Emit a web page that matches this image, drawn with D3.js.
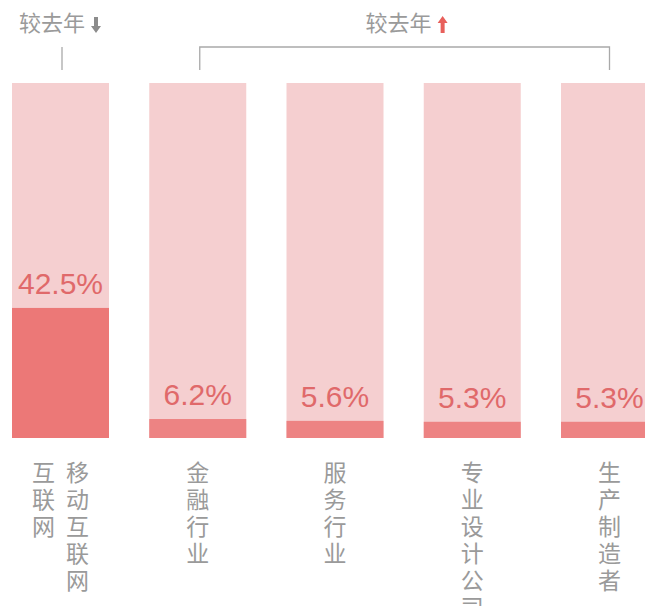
<!DOCTYPE html>
<html lang="zh">
<head>
    <meta charset="UTF-8">
    <title>较去年</title>
    <script src="https://d3js.org/d3.v7.min.js"></script>
    <style>
        body {
            margin: 0;
            padding: 0;
            background: #fff;
        }
        svg {
            display: block;
        }
        .cat {
            font-family: "Noto Sans CJK SC", sans-serif;
            font-size: 23px;
            fill: #9a9a9a;
        }
        .head {
            font-family: "Noto Sans CJK SC", sans-serif;
            font-size: 22px;
            fill: #9a9a9a;
        }
        .pct {
            font-family: "Liberation Sans", Arial, sans-serif;
            font-size: 30px;
            fill: #e0696a;
        }
    </style>
</head>
<body>
    <script>
        // donnees
        var categories = ['互联网/移动互联网', '金融行业', '服务行业', '专业设计公司', '生产制造者'];
        var values = [42.5, 6.2, 5.6, 5.3, 5.3];
        var yMax = 116;

        // groupes en tete : baisse pour le premier, hausse pour les autres
        var trendDown = ['互联网/移动互联网'];
        var trendUp = ['金融行业', '服务行业', '专业设计公司', '生产制造者'];
        var headLabel = '较去年';

        var width = 645;
        var height = 606;

        var svg = d3.select('body').append('svg')
            .attr('width', width)
            .attr('height', height);

        var x = d3.scaleBand()
            .domain(categories)
            .range([12, 658])
            .paddingInner(40.25 / 137.25)
            .paddingOuter(0);

        var y = d3.scaleLinear()
            .domain([0, yMax])
            .range([438, 83]);

        // fond des barres
        svg.selectAll('.bg')
            .data(categories)
            .enter().append('rect')
            .attr('class', 'bg')
            .attr('x', function(d) { return x(d); })
            .attr('y', 83)
            .attr('width', x.bandwidth())
            .attr('height', 438 - 83)
            .style('fill', '#f5cfd0');

        // barres
        svg.selectAll('.bar')
            .data(values)
            .enter().append('rect')
            .attr('class', 'bar')
            .attr('x', function(d, i) { return x(categories[i]); })
            .attr('y', function(d) { return y(d); })
            .attr('width', x.bandwidth())
            .attr('height', function(d) { return y(0) - y(d); })
            .style('fill', function(d, i) { return i === 0 ? '#ec7877' : '#ed8383'; });

        // pourcentages
        svg.selectAll('.pct')
            .data(values)
            .enter().append('text')
            .attr('class', 'pct')
            .attr('x', function(d, i) { return x(categories[i]) + x.bandwidth() / 2; })
            .attr('y', function(d) { return y(d) - 14; })
            .attr('text-anchor', 'middle')
            .text(function(d) { return d.toFixed(1) + '%'; });

        // libelles verticaux (un caractere par ligne)
        categories.forEach(function(c) {
            var cx = x(c) + x.bandwidth() / 2;
            var cols = c.split('/');
            cols.forEach(function(col, j) {
                var off = cols.length > 1 ? (j - (cols.length - 1) / 2) * 34 : 0;
                var t = svg.append('text')
                    .attr('class', 'cat')
                    .attr('text-anchor', 'middle');
                Array.from(col).forEach(function(ch, k) {
                    t.append('tspan')
                        .attr('x', cx + off)
                        .attr('y', 481 + k * 27)
                        .text(ch);
                });
            });
        });

        // en tete
        function center(c) { return x(c) + x.bandwidth() / 2; }

        function arrow(x0, up, color) {
            var p;
            if (up) {
                p = 'M' + (x0 + 5) + ',16 L' + (x0 + 10) + ',23 L' + (x0 + 7) + ',23 L' + (x0 + 7) + ',33 L' +
                    (x0 + 3) + ',33 L' + (x0 + 3) + ',23 L' + x0 + ',23 Z';
            } else {
                p = 'M' + (x0 + 5) + ',33 L' + (x0 + 10) + ',26 L' + (x0 + 7) + ',26 L' + (x0 + 7) + ',17 L' +
                    (x0 + 3) + ',17 L' + (x0 + 3) + ',26 L' + x0 + ',26 Z';
            }
            svg.append('path').attr('d', p).style('fill', color);
        }

        function head(gc, up) {
            svg.append('text')
                .attr('class', 'head')
                .attr('x', gc - 7)
                .attr('y', 31)
                .attr('text-anchor', 'middle')
                .text(headLabel);
            arrow(gc + 32, up, up ? '#e8605b' : '#8c8c8c');
        }

        var lineColor = '#a9a9a9';

        // baisse
        var cDown = center(trendDown[0]);
        head(cDown - 1.5, false);
        svg.append('line')
            .attr('x1', cDown + 1.5).attr('x2', cDown + 1.5)
            .attr('y1', 47).attr('y2', 70)
            .style('stroke', lineColor).style('stroke-width', 1.3);

        // hausse (accolade)
        var cA = center(trendUp[0]);
        var cB = center(trendUp[trendUp.length - 1]);
        head((cA + cB) / 2 + 2, true);
        svg.append('path')
            .attr('d', 'M' + (cA + 2) + ',70 L' + (cA + 2) + ',47 L' + cB + ',47 L' + cB + ',70')
            .style('fill', 'none')
            .style('stroke', lineColor)
            .style('stroke-width', 1.3);
    </script>
</body>
</html>
